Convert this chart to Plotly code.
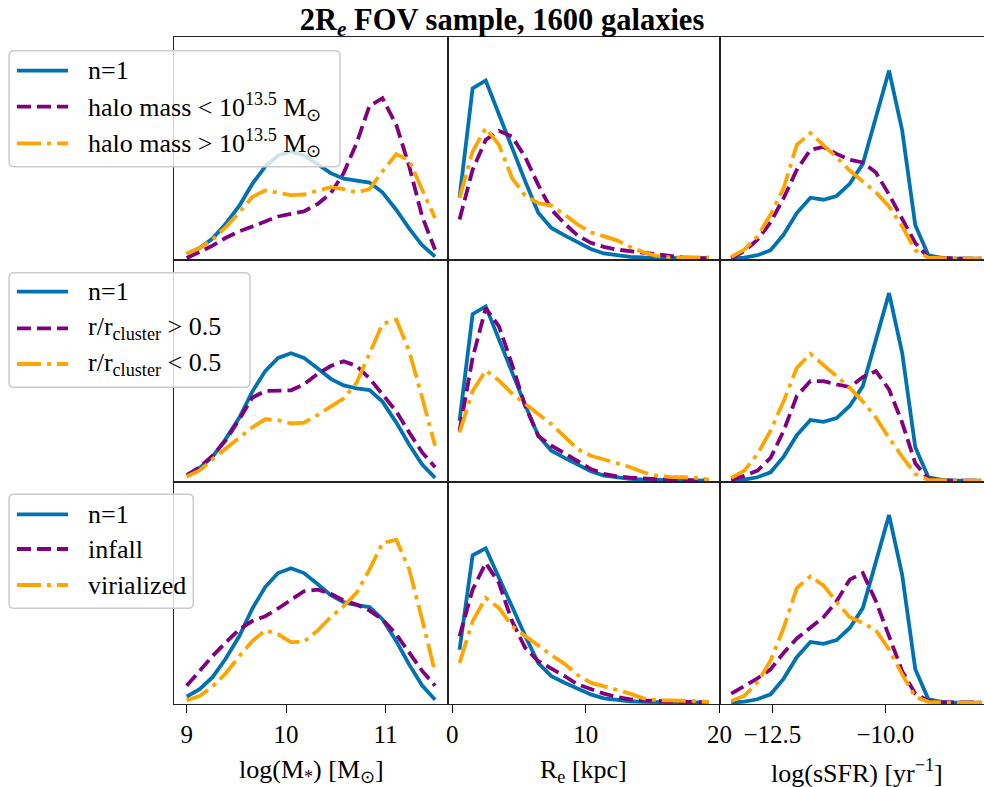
import plotly.graph_objects as go

W, H = 984, 787

# ---------------------------------------------------------------- data
# bin centres of the three histogrammed quantities
logmass_bins = [9.00, 9.13, 9.26, 9.39, 9.53, 9.66, 9.79, 9.92, 10.05, 10.18,
                10.32, 10.45, 10.58, 10.71, 10.84, 10.97, 11.11, 11.24, 11.37, 11.50]
re_bins = [0.55, 1.53, 2.51, 3.50, 4.48, 5.46, 6.44, 7.42, 8.41, 9.39,
           10.37, 11.35, 12.33, 13.32, 14.30, 15.28, 16.26, 17.24, 18.23, 19.21]
ssfr_bins = [-13.41, -13.12, -12.83, -12.54, -12.25, -11.96, -11.66, -11.37, -11.08, -10.79,
             -10.50, -10.21, -9.92, -9.63, -9.34, -9.05, -8.75, -8.46, -8.17, -7.88]

# n=1 comparison sample (identical in every row)
n1_logmass = [2.7, 5.9, 11.0, 18.8, 28.7, 40.4, 49.7, 55.7, 57.8, 55.7,
              50.9, 46.2, 43.2, 41.9, 41.1, 35.9, 26.4, 16.4, 7.4, 1.35]
n1_re = [27.2, 75.5, 79.0, 64.0, 48.9, 34.4, 20.4, 13.7, 10.4, 7.2,
         4.4, 2.4, 1.5, 0.9, 0.6, 0.45, 0.3, 0.3, 0.15, 0.15]
n1_ssfr = [0.15, 0.6, 1.65, 3.9, 11.0, 20.7, 27.6, 26.7, 28.4, 33.9,
           42.9, 64.7, 85.0, 58.0, 15.2, 1.65, 0.45, 0.15, 0.15, 0.15]

# row 1: split by host halo mass
halo_low_logmass = [0.54, 3.6, 7.2, 11.3, 14.9, 17.5, 20.2, 22.9, 24.3, 25.6,
                    29.7, 35.4, 46.2, 62.3, 82.3, 86.5, 72.1, 49.8, 22.9, 5.0]
halo_high_logmass = [2.9, 5.9, 10.4, 17.0, 25.1, 33.3, 36.9, 35.4, 34.4, 34.7,
                     36.5, 38.7, 37.6, 35.8, 37.6, 47.1, 56.4, 53.0, 37.2, 22.0]
halo_low_re = [17.4, 39.5, 52.7, 56.7, 54.2, 45.1, 32.8, 21.8, 15.6, 10.3,
               7.1, 5.3, 4.1, 3.4, 2.9, 2.2, 1.3, 0.7, 0.4, 0.3]
halo_high_re = [27.0, 47.6, 57.9, 50.5, 35.8, 28.0, 24.7, 23.6, 19.6, 15.2,
                11.8, 10.0, 8.2, 5.3, 2.9, 1.3, 0.7, 0.7, 0.7, 0.6]
halo_low_ssfr = [0.3, 3.5, 8.7, 16.5, 27.5, 40.2, 49.2, 50.5, 47.4, 44.7,
                 43.5, 39.0, 29.0, 18.5, 7.2, 0.6, 0.3, 0.15, 0.15, 0.15]
halo_high_ssfr = [0.9, 4.2, 10.2, 20.0, 32.0, 51.5, 56.8, 51.5, 45.9, 39.9,
                  35.0, 30.0, 23.7, 14.7, 3.9, 0.6, 0.3, 0.15, 0.15, 0.15]

# row 2: split by cluster-centric radius
outer_logmass = [2.4, 6.2, 11.4, 18.2, 27.9, 37.7, 40.7, 40.7, 41.0, 43.7,
                 48.5, 52.0, 54.2, 52.0, 46.4, 39.2, 31.4, 21.9, 12.9, 6.2]
inner_logmass = [2.0, 4.7, 9.8, 14.4, 19.7, 24.2, 27.9, 27.5, 26.0, 26.4,
                 29.9, 33.5, 37.4, 44.4, 58.0, 71.0, 73.0, 58.7, 37.7, 15.9]
outer_re = [22.7, 55.7, 78.2, 70.0, 52.7, 33.9, 20.4, 15.9, 12.5, 8.9,
            5.4, 3.2, 2.1, 1.5, 1.05, 0.6, 0.45, 0.3, 0.3, 0.15]
inner_re = [21.9, 40.7, 50.0, 45.5, 39.5, 35.0, 30.5, 25.7, 20.0, 14.4,
            11.4, 9.5, 8.0, 6.2, 3.9, 2.4, 1.8, 1.65, 1.35, 0.6]
outer_ssfr = [0.45, 2.25, 4.65, 10.4, 22.7, 38.4, 45.2, 45.2, 43.7, 42.5,
              47.0, 49.7, 41.4, 26.4, 8.0, 0.75, 0.15, 0.15, 0.15, 0.15]
inner_ssfr = [1.35, 4.65, 12.2, 22.7, 36.2, 51.2, 57.5, 52.7, 47.4, 42.2,
              35.9, 28.7, 19.4, 11.0, 3.15, 0.45, 0.15, 0.15, 0.15, 0.15]

# row 3: split by phase-space region
infall_logmass = [7.3, 14.0, 20.1, 25.8, 31.5, 35.1, 37.2, 40.5, 44.1, 47.9,
                  48.6, 46.8, 43.9, 42.2, 39.6, 35.8, 29.4, 21.5, 13.7, 7.3]
virial_logmass = [1.1, 2.9, 7.0, 12.5, 20.1, 26.5, 31.2, 29.4, 26.1, 26.2,
                  31.1, 36.8, 41.5, 47.2, 57.2, 68.6, 70.0, 57.2, 35.8, 13.0]
infall_re = [34.1, 57.9, 71.5, 61.3, 41.8, 28.2, 21.4, 17.7, 13.8, 9.5,
             7.0, 4.8, 3.1, 1.9, 1.4, 1.0, 0.85, 0.7, 0.5, 0.3]
virial_re = [20.5, 41.8, 53.7, 48.6, 39.2, 34.1, 29.0, 24.5, 20.0, 14.3,
             10.4, 8.5, 7.0, 4.8, 2.4, 1.4, 1.4, 1.4, 1.0, 0.5]
infall_ssfr = [4.2, 7.7, 11.1, 15.2, 22.7, 29.2, 34.3, 38.8, 46.0, 55.8,
               58.8, 46.0, 30.2, 14.4, 4.2, 0.9, 0.3, 0.15, 0.15, 0.15]
virial_ssfr = [0.9, 3.2, 9.2, 19.2, 34.0, 52.0, 57.3, 53.2, 45.6, 38.8,
               36.2, 32.8, 24.2, 12.9, 2.7, 0.45, 0.15, 0.15, 0.15, 0.15]

row_labels = [
    ["n=1", "halo mass &lt; 10<sup>13.5</sup> M<sub>⊙</sub>",
     "halo mass &gt; 10<sup>13.5</sup> M<sub>⊙</sub>"],
    ["n=1", "r/r<sub>cluster</sub> &gt; 0.5", "r/r<sub>cluster</sub> &lt; 0.5"],
    ["n=1", "infall", "virialized"],
]
xlabels = ["log(M<sub>*</sub>) [M<sub>⊙</sub>]", "R<sub>e</sub> [kpc]",
           "log(sSFR) [yr<sup>−1</sup>]"]
tick_vals = [[9, 10, 11], [0, 10, 20], [-12.5, -10.0]]
tick_text = [["9", "10", "11"], ["0", "10", "20"], ["−12.5", "−10.0"]]

bins = [logmass_bins, re_bins, ssfr_bins]
n1 = [n1_logmass, n1_re, n1_ssfr]
subsets = [
    [(halo_low_logmass, halo_high_logmass), (halo_low_re, halo_high_re),
     (halo_low_ssfr, halo_high_ssfr)],
    [(outer_logmass, inner_logmass), (outer_re, inner_re), (outer_ssfr, inner_ssfr)],
    [(infall_logmass, virial_logmass), (infall_re, virial_re),
     (infall_ssfr, virial_ssfr)],
]

# ---------------------------------------------------------------- layout
FONT = "Liberation Serif"
BLUE, PURPLE, ORANGE = "#0072B2", "#800080", "#FFA500"
LW = 3.8
DASH = "14px,6px"
DASHDOT = "24px,6px,4px,6px"
styles = [(BLUE, "solid"), (PURPLE, DASH), (ORANGE, DASHDOT)]

col_px = [(174.3, 447.5), (447.5, 719.5), (719.5, 984.0)]
row_px = [(37.3, 260.0), (260.0, 482.0), (482.0, 704.0)]
x_ranges = [[8.875, 11.625], [-0.35, 20.0], [-13.67, -7.82]]
y_tops = [[119.2, 98.1, 100.0], [100.0, 100.0, 100.0], [94.8, 112.9, 100.0]]


def px(x):
    return x / W


def py(y):
    return 1 - y / H


fig = go.Figure()
layout = dict(
    width=W, height=H, margin=dict(l=0, r=0, t=0, b=0, pad=0),
    paper_bgcolor="white", plot_bgcolor="white", showlegend=False,
    font=dict(family=FONT, color="black", size=24),
)

for r in range(3):
    for c in range(3):
        k = r * 3 + c + 1
        xs = "" if k == 1 else str(k)
        series = [n1[c], subsets[r][c][0], subsets[r][c][1]]
        for vals, (color, dash) in zip(series, styles):
            fig.add_trace(go.Scatter(
                x=bins[c], y=vals, mode="lines",
                line=dict(color=color, width=LW, dash=dash),
                xaxis="x" + xs, yaxis="y" + xs, hoverinfo="skip"))
        bottom = r == 2
        layout["xaxis" + xs] = dict(
            domain=[px(col_px[c][0]), px(col_px[c][1])], range=x_ranges[c],
            anchor="y" + xs, showline=True, linecolor="#222", linewidth=1.2,
            mirror=True, showgrid=False, zeroline=False,
            ticks="outside" if bottom else "", ticklen=8, tickwidth=1.4,
            tickcolor="black", tickvals=tick_vals[c], ticktext=tick_text[c],
            showticklabels=bottom, tickfont=dict(family=FONT, size=25),
            automargin=False)
        layout["yaxis" + xs] = dict(
            domain=[py(row_px[r][1]), py(row_px[r][0])],
            range=[-0.5, y_tops[r][c]], anchor="x" + xs, showline=True,
            linecolor="#222", linewidth=1.2, mirror=(c < 2), showgrid=False,
            zeroline=False, ticks="", showticklabels=False, automargin=False)

shapes, annotations = [], []

# x-axis titles under the bottom row
for c, label in enumerate(xlabels):
    centre = [311.0, 583.5, 856.5][c]
    annotations.append(dict(
        text=label, x=px(centre), y=py(771), xref="paper", yref="paper",
        xanchor="center", yanchor="middle", showarrow=False,
        font=dict(family=FONT, size=26)))

# one legend box per row
boxes = [(9, 50.7, 340, 166.7), (9, 272.7, 250, 387.3), (9, 494.3, 193.3, 608.3)]
entry_rows = [[70.7, 106.7, 143.3], [291.7, 328.3, 364.0], [514.3, 549.0, 585.0]]
for r in range(3):
    x0, y0, x1, y1 = boxes[r]
    rad = 5
    X0, X1, Y0, Y1 = px(x0), px(x1), py(y0), py(y1)
    rx, ry = rad / W, rad / H
    path = (f"M {X0+rx},{Y0} L {X1-rx},{Y0} Q {X1},{Y0} {X1},{Y0-ry} "
            f"L {X1},{Y1+ry} Q {X1},{Y1} {X1-rx},{Y1} L {X0+rx},{Y1} "
            f"Q {X0},{Y1} {X0},{Y1+ry} L {X0},{Y0-ry} Q {X0},{Y0} {X0+rx},{Y0} Z")
    shapes.append(dict(type="path", path=path, xref="paper", yref="paper",
                       fillcolor="rgba(255,255,255,0.8)",
                       line=dict(color="#cccccc", width=1.5), layer="above"))
    for (color, dash), yy, label in zip(styles, entry_rows[r], row_labels[r]):
        shapes.append(dict(type="line", xref="paper", yref="paper",
                           x0=px(17), x1=px(68), y0=py(yy), y1=py(yy),
                           line=dict(color=color, width=LW, dash=dash),
                           layer="above"))
        annotations.append(dict(
            text=label, x=px(86), y=py(yy), xref="paper", yref="paper",
            xanchor="left", yanchor="middle", showarrow=False,
            font=dict(family=FONT, size=26)))

layout["shapes"] = shapes
layout["annotations"] = annotations
layout["title"] = dict(
    text="<b>2R<sub><i>e</i></sub> FOV sample, 1600 galaxies</b>",
    x=px(502), y=py(19), xref="paper", yref="paper",
    xanchor="center", yanchor="middle",
    font=dict(family=FONT, size=30.5, color="black"))

fig.update_layout(**layout)
fig.write_html("out.html")
